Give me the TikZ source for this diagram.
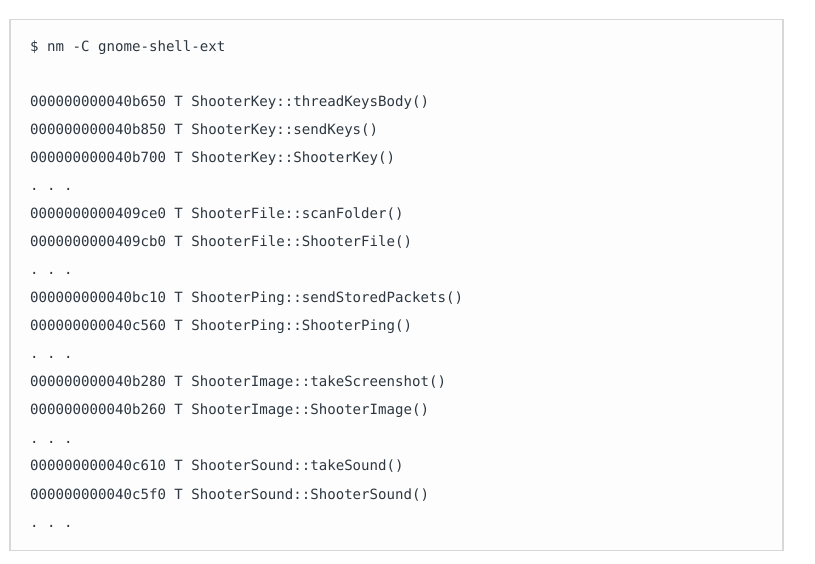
\documentclass[tikz,border=0pt]{standalone}
\usepackage{fontspec}
\newfontfamily\codefont{DejaVu Sans Mono}
\definecolor{codetext}{RGB}{45,55,65}
\definecolor{boxborder}{RGB}{216,216,216}
\definecolor{boxfill}{RGB}{253,253,253}
\begin{document}
\begin{tikzpicture}[x=1pt,y=-1pt,
  codeline/.style={anchor=base west,inner sep=0pt,text=codetext,font=\codefont\fontsize{14.1pt}{28pt}\selectfont}]
\useasboundingbox (0,0) rectangle (815,564);
\fill[white] (0,0) rectangle (815,564);
\draw[boxborder,fill=boxfill,line width=1.2pt] (10,19.5) rectangle (783,550.5);
\node[codeline] (cmd) at (30,52) {\$ nm -C gnome-shell-ext};
\node[codeline] (l1) at (30,107) {000000000040b650 T ShooterKey::threadKeysBody()};
\node[codeline] (l2) at (30,135) {000000000040b850 T ShooterKey::sendKeys()};
\node[codeline] (l3) at (30,163) {000000000040b700 T ShooterKey::ShooterKey()};
\node[codeline] (d1) at (30,191) {.\ .\ .};
\node[codeline] (l4) at (30,219) {0000000000409ce0 T ShooterFile::scanFolder()};
\node[codeline] (l5) at (30,247) {0000000000409cb0 T ShooterFile::ShooterFile()};
\node[codeline] (d2) at (30,275) {.\ .\ .};
\node[codeline] (l6) at (30,303) {000000000040bc10 T ShooterPing::sendStoredPackets()};
\node[codeline] (l7) at (30,331) {000000000040c560 T ShooterPing::ShooterPing()};
\node[codeline] (d3) at (30,359) {.\ .\ .};
\node[codeline] (l8) at (30,387) {000000000040b280 T ShooterImage::takeScreenshot()};
\node[codeline] (l9) at (30,415) {000000000040b260 T ShooterImage::ShooterImage()};
\node[codeline] (d4) at (30,443) {.\ .\ .};
\node[codeline] (l10) at (30,471) {000000000040c610 T ShooterSound::takeSound()};
\node[codeline] (l11) at (30,499) {000000000040c5f0 T ShooterSound::ShooterSound()};
\node[codeline] (d5) at (30,527) {.\ .\ .};
\end{tikzpicture}
\end{document}
